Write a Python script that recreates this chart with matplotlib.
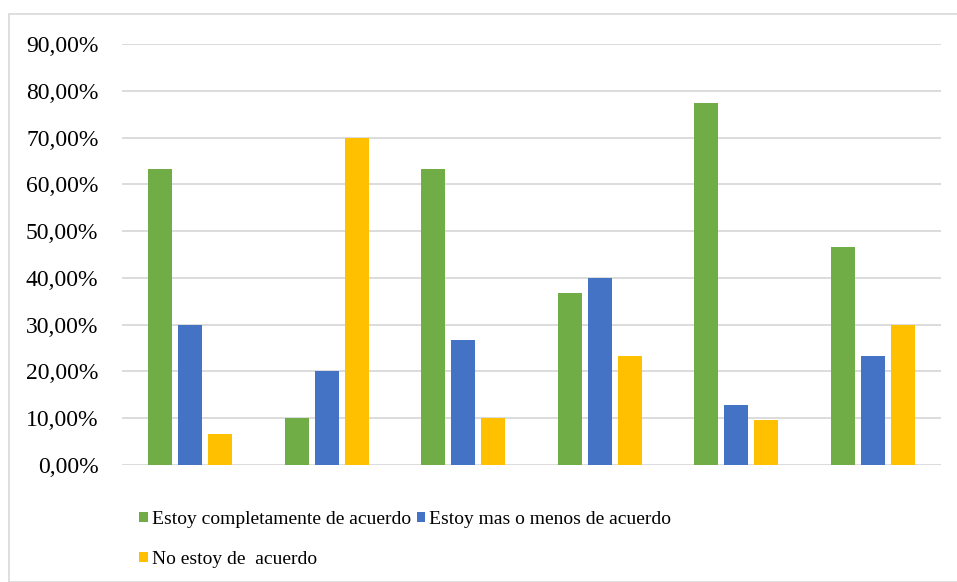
import matplotlib.pyplot as plt
import matplotlib.patches as mpatches
import numpy as np

plt.rcParams['font.family'] = ['Liberation Serif', 'DejaVu Serif']

series = ["Estoy completamente de acuerdo", "Estoy mas o menos de acuerdo",
          "No estoy de  acuerdo"]
completo = [63.33, 10.00, 63.33, 36.67, 77.42, 46.67]
mas_menos = [30.00, 20.00, 26.67, 40.00, 12.90, 23.33]
no_acuerdo = [6.67, 70.00, 10.00, 23.33, 9.68, 30.00]
colors = ["#70ad47", "#4472c4", "#ffc000"]
yticks = np.arange(0, 91, 10)

fig = plt.figure(figsize=(9.57, 5.82), dpi=100)
# light frame around the chart area
fig.patches.append(mpatches.Rectangle((9/957, 0), 1, 1 - 14/582, transform=fig.transFigure,
                                      fill=False, edgecolor="#d9d9d9", lw=1.2))
ax = fig.add_axes([122/957, 1 - 465/582, (941-122)/957, (465-44)/582])

x = np.arange(6)
w = 0.176
step = 0.22
for i, vals in enumerate([completo, mas_menos, no_acuerdo]):
    ax.bar(x + (i - 1) * step, vals, width=w, color=colors[i], zorder=3, label=series[i])

ax.set_xlim(-0.5, 5.5)
ax.set_ylim(0, 90)
ax.set_yticks(yticks)
ax.set_yticklabels(["%d,00%%" % v for v in yticks], fontsize=17)
ax.set_xticks([])
ax.tick_params(axis='y', length=0, pad=17)
ax.grid(axis='y', color="#d9d9d9", lw=1.3, zorder=0)
for s in ax.spines.values():
    s.set_visible(False)

h, l = ax.get_legend_handles_labels()
order = [0, 2, 1]
leg = fig.legend([h[k] for k in order], [l[k] for k in order], ncol=2,
                 loc="upper left", bbox_to_anchor=(139/957, 1 - 511/582),
                 frameon=False, fontsize=14, handlelength=0.45, handleheight=0.45,
                 handletextpad=0.2, columnspacing=0.3, labelspacing=1.18, borderpad=0,
                 borderaxespad=0)

fig.savefig("out.png", dpi=100)
